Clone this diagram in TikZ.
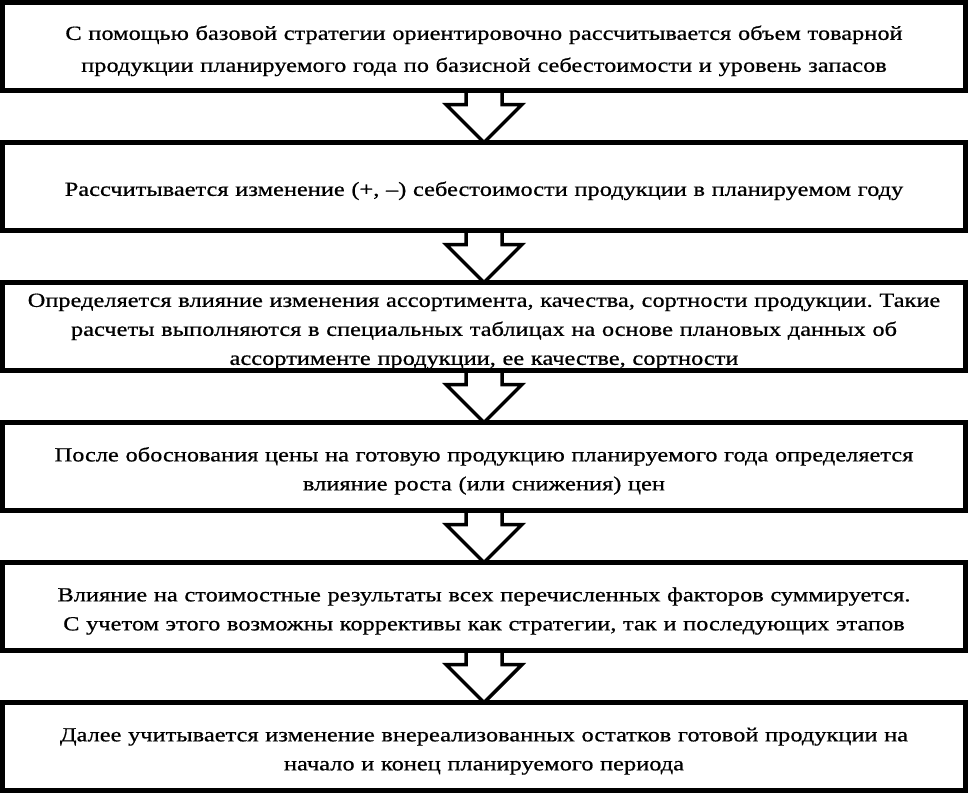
\documentclass[tikz,border=0pt]{standalone}
\usepackage{fontspec}
\setmainfont{Liberation Serif}[FakeStretch=1.22, FakeBold=0.7]
\usetikzlibrary{positioning, calc}
\frenchspacing

\tikzset{
    stage/.style={draw, line width=4.5pt, outer sep=0pt, minimum width=963pt, minimum height=88pt,
        text width=958pt, align=center, inner sep=0pt,
        font=\fontsize{20}{29}\selectfont,
        execute at begin node={\rule{0pt}{23pt}}},
    flow/.style={draw, line width=3.5pt, line join=miter}
}

\begin{document}
\begin{tikzpicture}[x=1pt, y=1pt]
    \useasboundingbox (0,0) rectangle (973,-796);

    % Stages, top to bottom
    \node[stage, font=\fontsize{20}{32}\selectfont] (s1) at (484,-46.5)
        {С помощью базовой стратегии ориентировочно рассчитывается объем товарной\\
         продукции планируемого года по базисной себестоимости и уровень запасов};
    \node[stage, below=52pt of s1] (s2)
        {Рассчитывается изменение (+, –) себестоимости продукции в планируемом году};
    \node[stage, below=52pt of s2] (s3)
        {Определяется влияние изменения ассортимента, качества, сортности продукции. Такие\\
         расчеты выполняются в специальных таблицах на основе плановых данных об\\
         ассортименте продукции, ее качестве, сортности};
    \node[stage, below=52pt of s3] (s4)
        {После обоснования цены на готовую продукцию планируемого года определяется\\
         влияние роста (или снижения) цен};
    \node[stage, below=52pt of s4] (s5)
        {Влияние на стоимостные результаты всех перечисленных факторов суммируется.\\
         С учетом этого возможны коррективы как стратегии, так и последующих этапов};
    \node[stage, below=52pt of s5] (s6)
        {Далее учитывается изменение внереализованных остатков готовой продукции на\\
         начало и конец планируемого периода};

    % Hollow block arrows between stages
    \foreach \a/\b in {s1/s2, s2/s3, s3/s4, s4/s5, s5/s6} {
        \draw[flow] ($(\a.south)+(-18,0)$) -- ++(0,-14) -- ++(-20,0) -- (\b.north)
            -- ($(\a.south)+(38,-14)$) -- ++(-20,0) -- ($(\a.south)+(18,0)$);
    }
\end{tikzpicture}
\end{document}
